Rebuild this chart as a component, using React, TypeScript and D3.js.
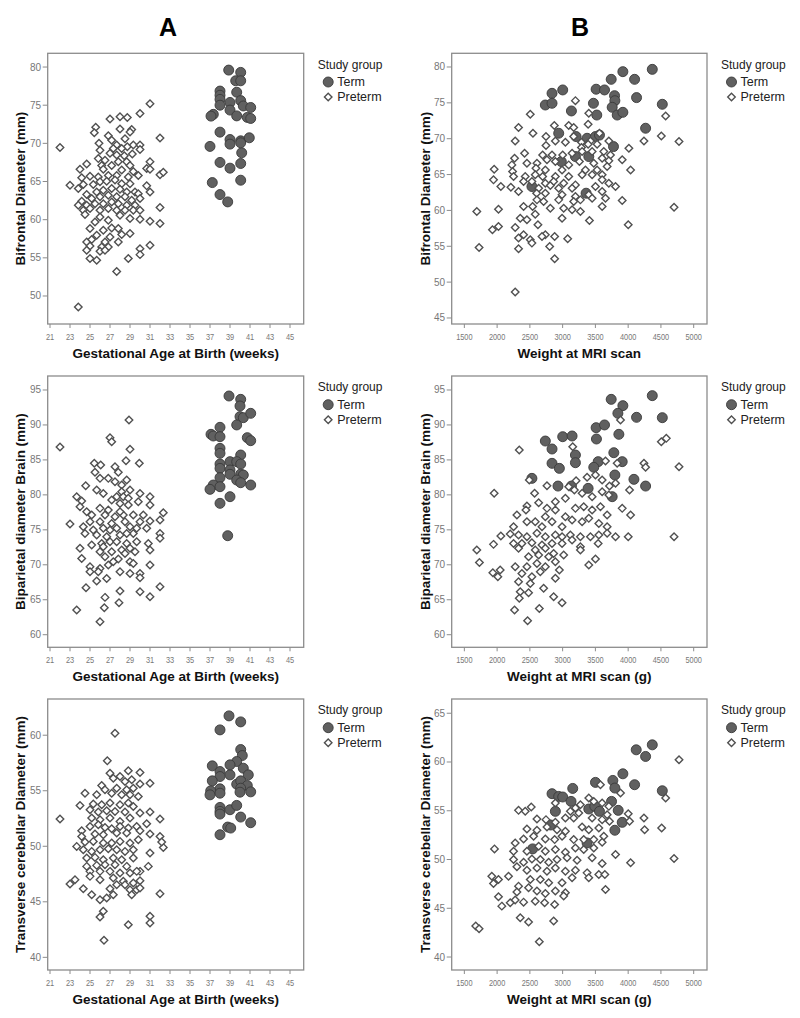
import React from "react";
import * as d3 from "d3";

const FONT = "'Liberation Sans', Arial, Helvetica, sans-serif";

// ---------- tick labels ----------
const gaTicks = [21, 23, 25, 27, 29, 31, 33, 35, 37, 39, 41, 43, 45];
const weightTicks = [1500, 2000, 2500, 3000, 3500, 4000, 4500, 5000];
const bfdTicksA = [50, 55, 60, 65, 70, 75, 80];
const bfdTicksB = [45, 50, 55, 60, 65, 70, 75, 80];
const bpdTicks = [60, 65, 70, 75, 80, 85, 90, 95];
const tcdTicksA = [40, 45, 50, 55, 60];
const tcdTicksB = [40, 45, 50, 55, 60, 65];

// ---------- A1: Bifrontal vs gestational age ----------
const termGA_BFD = [[38.87,79.6],[40.07,79.3],[39.57,78.2],[40.07,78.2],[38.0,76.85],[38.0,76.3],[38.0,75.76],[39.67,76.7],[39.0,75.36],[40.07,75.6],[38.0,75.0],[40.33,74.9],[41.07,74.7],[39.0,74.36],[39.67,73.6],[37.33,73.8],[37.1,73.57],[40.73,73.4],[41.07,73.26],[38.0,71.47],[39.0,70.5],[40.07,70.33],[39.0,69.9],[40.07,70.07],[40.93,70.73],[37.0,69.6],[40.17,68.76],[38.0,67.5],[40.07,67.36],[39.0,66.75],[37.23,64.86],[40.07,65.17],[38.0,63.29],[38.77,62.33]];
const pretermGA_BFD = [[31.0,75.2],[30.0,73.9],[27.0,73.2],[28.0,73.5],[28.73,73.4],[25.57,72.1],[25.43,71.4],[28.0,71.87],[29.17,71.8],[29.0,71.5],[32.0,70.7],[22.0,69.46],[26.83,70.99],[27.17,70.4],[25.9,70.0],[27.67,69.77],[28.5,70.6],[28.73,69.55],[29.33,69.77],[30.0,69.77],[30.0,69.2],[26.0,69.1],[27.33,69.33],[28.17,69.33],[29.23,68.6],[27.67,68.46],[28.43,68.37],[27.0,68.7],[25.83,68.0],[26.5,67.8],[27.83,67.6],[28.67,67.6],[31.0,67.6],[24.67,67.3],[26.17,67.1],[27.17,67.1],[29.0,67.1],[30.67,66.7],[31.0,66.6],[24.0,66.6],[26.33,66.6],[28.17,66.5],[29.33,66.3],[29.83,65.8],[32.0,65.9],[32.33,66.2],[25.0,65.7],[24.17,65.5],[25.83,65.6],[26.83,65.8],[27.67,65.8],[28.83,65.6],[23.0,64.5],[23.83,64.08],[24.33,64.6],[25.33,64.6],[26.0,64.96],[26.67,65.04],[27.5,65.2],[28.17,64.7],[29.0,64.7],[30.67,64.43],[31.0,63.64],[24.67,63.3],[25.67,63.64],[26.33,63.86],[27.17,64.08],[28.0,64.0],[28.67,63.64],[29.5,63.64],[29.83,63.4],[24.17,62.4],[25.17,62.77],[26.0,63.0],[26.83,63.2],[27.67,63.0],[28.5,63.0],[29.17,62.55],[30.0,62.77],[23.83,61.9],[24.67,61.9],[25.5,62.1],[26.33,62.1],[27.17,62.33],[27.83,62.1],[28.67,61.9],[29.5,61.9],[24.33,61.24],[25.0,61.46],[26.0,61.24],[26.83,61.46],[27.67,61.24],[28.5,61.24],[29.33,61.24],[30.0,61.24],[32.0,61.6],[24.5,60.67],[26.0,60.36],[28.0,60.58],[29.0,60.14],[30.0,60.06],[31.0,59.8],[25.5,59.7],[26.83,59.93],[32.0,59.49],[25.0,58.83],[26.33,58.6],[27.17,58.9],[27.83,58.83],[29.0,58.18],[25.67,57.96],[27.0,57.74],[28.17,58.05],[24.67,57.08],[25.17,57.4],[26.5,57.08],[27.83,57.08],[25.0,56.56],[26.17,56.43],[26.83,56.43],[31.0,56.65],[30.0,56.2],[24.67,55.99],[26.0,55.86],[26.5,55.99],[30.0,55.42],[25.0,54.9],[25.67,54.68],[28.83,54.9],[27.67,53.2],[23.83,48.55]];

// ---------- B1: Bifrontal vs weight ----------
const termWT_BFD = [[4368,79.67],[3919,79.35],[3741,78.28],[4098,78.28],[2838,76.33],[3001,76.8],[3511,76.9],[3639,76.8],[3792,76.0],[3797,75.3],[4128,75.73],[4521,74.8],[2736,74.7],[2838,74.94],[3134,73.87],[3470,74.94],[3521,73.3],[3756,74.38],[3833,73.3],[3919,73.68],[4266,71.46],[2940,70.76],[3205,70.3],[3373,70.06],[3501,70.3],[3562,70.5],[3776,68.9],[3195,67.51],[3399,67.51],[2980,66.81],[2531,63.33],[3358,62.4]];
const pretermWT_BFD = [[3195,75.31],[2506,73.41],[3399,73.55],[4572,73.17],[2327,71.55],[2873,71.83],[3093,71.83],[3169,71.55],[3389,72.01],[2547,70.76],[2746,70.3],[2889,69.69],[3042,69.51],[3169,70.3],[3287,69.51],[3424,69.69],[3562,70.76],[2276,69.69],[2746,69.04],[3287,68.76],[3389,69.23],[3526,69.23],[3705,69.69],[4011,68.67],[4241,69.69],[4506,70.39],[4776,69.6],[2419,67.97],[2266,67.28],[2695,67.74],[2838,67.74],[3001,67.74],[3144,67.97],[3297,68.21],[3450,68.21],[3628,68.21],[3730,67.74],[3909,67.05],[2225,66.35],[2455,66.58],[2608,66.58],[2761,67.05],[2889,66.81],[3093,66.35],[3256,66.81],[3603,67.28],[3475,66.58],[3705,66.91],[1955,65.75],[2236,65.42],[2593,65.89],[2736,65.65],[2991,65.65],[3348,65.65],[3526,65.65],[3679,66.12],[4037,65.65],[2429,64.72],[2582,64.96],[2695,64.72],[2889,64.72],[3093,64.72],[3297,64.96],[3450,64.96],[3603,64.96],[1945,64.26],[2251,64.72],[2404,64.03],[2531,64.03],[2736,63.8],[2863,64.03],[3016,63.8],[3195,63.56],[3603,64.26],[3705,63.8],[2057,63.33],[2210,63.24],[2634,63.1],[2812,63.47],[2940,63.1],[3144,63.1],[3501,63.33],[3807,63.33],[2327,62.64],[2603,62.4],[2736,62.4],[2991,62.17],[3195,61.94],[3399,62.17],[3603,62.64],[2608,61.47],[2710,61.24],[2940,61.47],[3169,61.24],[3271,61.47],[3450,61.71],[3654,61.71],[3909,61.38],[2404,60.55],[2542,60.55],[2812,60.31],[3016,60.31],[3144,60.08],[3603,60.55],[2021,60.17],[1690,59.85],[3271,59.85],[4700,60.45],[2353,58.92],[2455,58.69],[2582,59.48],[2991,58.92],[3409,58.6],[4001,57.99],[1929,57.3],[2021,57.76],[2276,57.62],[2404,56.6],[2623,57.99],[2736,56.6],[2506,55.9],[2685,56.37],[2878,56.37],[3077,56.04],[2327,56.14],[2531,55.44],[2802,54.98],[1725,54.84],[2327,54.65],[2878,53.26],[2276,48.62]];

// ---------- A2: Biparietal vs gestational age ----------
const termGA_BPD = [[38.9,94.14],[40.07,93.66],[40.0,92.71],[40.0,91.19],[40.33,91.04],[41.07,91.66],[39.67,90.0],[38.0,89.66],[37.1,88.66],[37.33,88.42],[38.0,88.32],[40.73,88.18],[41.07,87.75],[38.0,86.65],[38.0,85.94],[40.07,85.7],[39.0,84.75],[39.67,84.75],[40.07,84.41],[38.0,84.41],[38.0,83.79],[39.0,83.56],[39.0,82.94],[40.07,82.98],[40.33,82.84],[39.67,82.12],[38.0,82.46],[40.07,81.74],[37.33,81.41],[41.07,81.41],[37.0,80.79],[38.0,81.17],[39.0,79.74],[38.0,78.79],[38.77,74.16]];
const pretermGA_BPD = [[28.9,90.7],[27.0,88.18],[27.17,87.6],[22.0,86.84],[29.0,86.51],[28.6,84.89],[29.93,84.51],[25.43,84.51],[26.07,84.27],[27.5,84.03],[27.83,83.22],[25.5,83.22],[26.0,82.36],[26.83,82.36],[27.5,81.88],[28.17,81.41],[28.67,82.12],[24.57,81.31],[25.67,80.69],[26.33,80.21],[28.17,80.45],[29.0,80.69],[30.0,80.21],[23.67,79.74],[24.17,79.12],[27.67,79.74],[28.33,79.74],[28.83,79.5],[31.0,79.74],[24.0,78.31],[24.67,77.59],[25.17,77.11],[26.83,77.83],[28.0,78.78],[28.83,78.54],[29.83,79.02],[31.0,78.54],[32.33,77.45],[32.0,76.4],[31.0,76.26],[23.0,75.83],[26.0,76.16],[27.17,75.92],[28.33,77.11],[29.33,77.11],[30.0,76.16],[30.67,75.21],[24.33,75.44],[25.33,74.97],[26.33,75.21],[27.67,75.21],[29.0,75.44],[24.5,74.49],[25.67,74.25],[26.67,74.01],[28.0,74.25],[29.33,74.49],[32.0,74.49],[32.0,73.78],[25.17,72.82],[26.17,73.06],[27.0,73.3],[28.67,73.06],[29.67,73.3],[30.83,73.06],[31.0,72.11],[24.0,72.35],[26.0,71.87],[27.17,71.87],[28.17,72.11],[29.5,71.87],[24.17,70.91],[26.5,71.15],[27.83,70.82],[29.0,70.44],[29.33,70.2],[31.0,69.96],[25.0,69.72],[26.0,69.48],[26.83,69.96],[28.0,69.01],[25.0,69.01],[25.83,69.01],[29.0,68.77],[30.0,68.77],[30.0,68.15],[25.67,67.67],[26.67,68.05],[24.6,66.72],[32.0,66.86],[30.0,66.15],[28.0,66.24],[31.0,65.43],[26.5,65.34],[27.9,64.57],[23.67,63.52],[26.43,63.86],[26.0,61.85],[27.17,79.26],[26.5,77.11],[27.5,76.88],[28.5,76.16],[26.0,78.07],[27.67,73.3],[28.67,74.49],[27.0,74.97],[29.0,72.35],[27.33,70.44],[29.67,75.21],[25.0,76.16],[30.33,77.11],[28.5,71.63],[26.33,72.58],[28.0,77.59]];

// ---------- B2: Biparietal vs weight ----------
const termWT_BPD = [[4368,94.19],[3741,93.66],[3919,92.76],[3843,91.66],[4128,91.09],[4521,91.04],[3511,89.61],[3639,90.0],[3001,88.32],[3144,88.42],[3516,87.99],[3858,88.66],[2736,87.7],[2838,86.56],[3195,85.7],[3781,86.03],[2838,84.51],[2950,83.79],[3195,84.6],[3542,84.75],[3909,84.75],[3475,83.94],[3797,82.84],[4088,82.22],[4266,81.26],[2531,82.36],[2929,81.26],[3134,81.26],[3389,80.93],[3756,79.74]];
const pretermWT_BPD = [[3883,90.71],[2338,86.42],[3154,86.89],[4506,87.61],[4582,88.08],[4776,84.03],[4241,84.51],[4266,83.94],[3654,84.84],[3832,84.51],[2491,82.12],[2572,80.22],[1955,80.22],[2761,81.31],[3093,81.17],[3205,82.03],[3373,82.51],[3501,82.84],[3603,82.12],[3715,81.27],[3807,81.65],[4021,80.69],[2634,78.88],[2455,78.4],[2761,78.07],[2889,79.02],[3042,79.5],[3179,80.69],[3297,80.22],[3450,79.74],[3603,80.45],[3705,79.98],[2302,77.12],[2440,77.83],[2582,76.16],[2736,76.88],[2889,77.83],[3042,76.88],[3195,78.07],[3322,78.31],[3450,77.83],[3577,78.31],[3679,77.12],[3909,78.07],[4037,77.12],[2251,75.45],[2455,76.16],[2685,75.45],[2838,76.16],[2991,75.45],[3144,76.4],[3297,76.16],[3399,76.64],[3552,75.92],[3679,75.45],[3807,74.02],[4001,74.02],[4700,74.02],[2057,74.11],[2200,74.4],[2327,74.26],[2455,74.02],[2608,74.5],[2736,74.02],[2889,74.26],[2991,74.02],[3118,74.26],[3271,74.02],[3424,74.02],[3552,74.26],[3679,74.5],[2251,73.06],[2378,73.06],[2531,73.16],[2685,72.82],[2838,73.06],[2991,73.06],[3144,73.54],[3271,72.59],[3542,73.06],[1945,72.92],[1690,72.11],[2327,72.35],[2582,72.11],[2736,72.35],[2863,71.63],[3016,71.39],[3271,72.11],[2480,71.16],[2634,71.39],[2787,71.16],[2889,70.44],[2276,69.72],[2455,69.72],[2608,70.2],[2736,69.72],[2950,69.25],[3399,69.96],[3501,70.82],[1730,70.34],[1935,68.87],[2011,68.29],[2047,69.25],[2378,68.77],[2531,68.29],[2659,69.01],[2889,68.06],[2327,67.58],[2506,67.34],[2710,66.63],[2353,66.15],[2480,66.01],[2863,65.43],[2991,64.58],[2338,65.2],[2266,63.53],[2644,63.76],[2465,62.0]];

// ---------- A3: Transverse cerebellar vs gestational age ----------
const termGA_TCD = [[38.9,61.74],[40.07,61.2],[38.0,60.48],[40.07,58.71],[40.23,58.17],[39.67,57.63],[39.0,57.33],[37.23,57.24],[40.33,57.03],[38.0,56.73],[39.0,56.43],[40.83,56.43],[38.0,56.28],[37.23,55.89],[39.67,55.59],[40.07,55.89],[40.73,55.47],[38.0,55.17],[40.07,55.23],[37.07,54.99],[38.0,54.78],[37.0,54.63],[41.07,54.9],[40.0,54.87],[38.0,53.5],[38.0,53.14],[38.0,52.9],[39.0,53.29],[39.67,53.68],[40.07,52.63],[41.07,52.12],[38.77,51.73],[39.07,51.64],[38.0,51.04]];
const pretermGA_TCD = [[27.5,60.18],[26.73,57.69],[27.0,56.58],[28.83,56.79],[30.0,56.64],[27.33,56.13],[28.0,56.28],[28.5,55.83],[29.17,55.98],[31.0,55.68],[30.0,55.6],[26.17,55.47],[26.5,55.08],[27.67,55.23],[28.67,55.08],[29.33,55.23],[24.5,54.78],[25.67,54.63],[27.17,54.78],[28.17,54.63],[29.0,54.63],[29.83,54.49],[24.0,53.68],[25.33,53.8],[26.17,53.74],[27.0,53.89],[28.0,53.74],[28.83,53.89],[29.33,53.59],[25.0,53.29],[25.83,53.08],[26.67,53.2],[27.5,53.14],[28.5,53.08],[30.0,52.99],[31.0,53.08],[22.0,52.45],[25.17,52.54],[26.0,52.39],[27.0,52.54],[28.0,52.24],[29.0,52.54],[32.0,52.45],[30.67,52.03],[24.17,51.4],[25.0,51.79],[25.83,51.94],[26.5,51.7],[27.17,51.58],[28.0,51.79],[28.83,51.64],[29.67,51.79],[24.17,50.89],[25.5,51.1],[26.33,51.04],[27.67,51.19],[28.67,51.19],[30.0,51.4],[31.0,51.1],[32.0,50.89],[23.67,49.99],[24.5,50.38],[25.33,50.44],[26.33,50.29],[27.17,50.29],[28.0,50.44],[29.0,50.29],[29.83,50.59],[32.33,49.9],[32.17,50.38],[24.33,49.69],[25.17,49.54],[26.0,49.69],[26.83,49.78],[27.67,49.69],[28.5,49.54],[29.33,49.69],[31.0,49.39],[24.67,48.94],[25.5,49.0],[26.33,48.79],[27.33,48.94],[28.17,48.79],[29.33,48.94],[24.67,48.19],[25.67,48.28],[26.5,48.34],[27.5,48.34],[28.67,48.19],[30.0,47.74],[30.83,48.19],[25.0,47.74],[26.0,47.74],[27.0,47.74],[28.0,47.59],[29.0,47.59],[29.67,47.74],[23.5,46.99],[23.0,46.6],[25.0,47.29],[26.0,46.99],[27.33,47.14],[28.33,46.84],[29.33,46.69],[30.0,46.9],[24.33,46.18],[25.17,45.64],[27.0,46.18],[27.67,46.54],[28.5,46.54],[29.0,46.09],[29.67,46.09],[30.0,46.24],[32.0,45.73],[26.0,45.19],[26.67,45.34],[27.33,45.64],[29.17,45.64],[26.33,44.14],[26.0,43.63],[28.83,42.94],[31.0,43.69],[31.0,43.09],[26.4,41.54]];

// ---------- B3: Transverse cerebellar vs weight ----------
const termWT_TCD = [[4368,61.76],[4123,61.25],[4266,60.57],[3919,58.79],[4098,57.67],[4521,57.05],[3501,57.91],[3766,58.11],[3797,57.33],[3154,57.29],[2838,56.75],[2940,56.47],[3001,56.41],[3128,55.96],[3399,55.18],[3491,55.45],[3562,54.94],[3746,55.96],[3848,55.04],[3797,53.0],[3909,53.81],[2817,53.54],[2889,54.94],[3373,51.7],[2542,51.09]];
const pretermWT_TCD = [[4776,60.22],[4572,56.3],[3883,56.82],[3577,57.67],[3399,56.3],[3271,55.62],[3475,55.96],[3603,55.79],[3705,55.45],[3195,55.28],[3118,54.94],[2889,55.79],[2327,55.04],[2429,54.94],[2521,55.38],[2608,54.16],[2746,54.09],[2889,53.81],[3042,54.26],[3169,54.26],[3246,54.77],[3450,54.26],[3603,54.09],[3679,54.6],[3715,53.92],[4001,54.7],[4021,53.92],[4241,54.26],[4251,53.06],[4511,53.23],[2455,53.13],[2608,53.0],[2761,53.34],[2914,53.06],[3042,52.89],[3297,53.34],[3399,53.06],[3552,53.23],[3628,52.38],[2404,52.11],[2557,52.38],[2736,52.11],[2878,52.04],[2991,52.38],[3169,52.04],[3322,52.04],[3475,52.04],[3603,51.77],[1960,51.09],[2276,51.7],[2251,50.85],[2455,50.85],[2634,51.36],[2736,50.85],[2889,51.02],[3042,50.75],[3195,51.19],[3322,51.02],[3475,51.19],[3807,50.51],[4037,49.66],[4700,50.1],[2251,50.0],[2404,49.72],[2531,50.06],[2659,50.0],[2787,49.72],[2914,50.0],[3067,50.17],[3220,49.93],[3450,50.17],[3603,49.59],[2302,49.25],[2455,48.9],[2608,49.14],[2761,48.8],[2889,49.14],[3042,48.8],[3195,48.9],[3373,48.63],[3552,48.46],[3644,48.46],[1919,48.29],[2021,47.95],[1945,47.54],[2174,48.29],[2506,47.95],[2659,47.95],[2787,47.61],[2991,47.61],[3144,48.12],[3399,48.12],[2327,47.27],[2480,47.1],[2608,46.76],[2736,46.52],[2889,46.76],[3042,46.59],[3654,46.93],[2302,46.66],[2021,46.18],[2200,45.56],[2276,45.84],[2404,45.63],[2582,45.73],[2725,45.56],[2878,45.39],[3016,46.25],[2072,45.22],[2353,44.03],[2480,43.59],[2863,43.69],[1674,43.18],[1725,42.9],[2644,41.57]];

// ---------- layout ----------
const colLeft = [47.7, 451.7];
const colRight = [303.7, 707];
const rowTop = [53.3, 376, 699];
const rowBottom = [324, 647.3, 970];

type Pt = number[];
interface Panel {
  col: number; row: number;
  xDomain: number[]; yDomain: number[];
  xTicks: number[]; yTicks: number[];
  xTitle: string; yTitle: string;
  term: Pt[]; preterm: Pt[];
}

const panels: Panel[] = [
  { col: 0, row: 0, xDomain: [20.77, 46.37], yDomain: [46.33, 81.8], xTicks: gaTicks, yTicks: bfdTicksA,
    xTitle: "Gestational Age at Birth (weeks)", yTitle: "Bifrontal Diameter (mm)", term: termGA_BFD, preterm: pretermGA_BFD },
  { col: 1, row: 0, xDomain: [1307, 5203], yDomain: [44.16, 81.91], xTicks: weightTicks, yTicks: bfdTicksB,
    xTitle: "Weight at MRI scan", yTitle: "Bifrontal Diameter (mm)", term: termWT_BFD, preterm: pretermWT_BFD },
  { col: 0, row: 1, xDomain: [20.77, 46.37], yDomain: [58.2, 97.0], xTicks: gaTicks, yTicks: bpdTicks,
    xTitle: "Gestational Age at Birth (weeks)", yTitle: "Biparietal diameter Brain (mm)", term: termGA_BPD, preterm: pretermGA_BPD },
  { col: 1, row: 1, xDomain: [1307, 5203], yDomain: [58.2, 97.0], xTicks: weightTicks, yTicks: bpdTicks,
    xTitle: "Weight at MRI scan (g)", yTitle: "Biparietal diameter Brain (mm)", term: termWT_BPD, preterm: pretermWT_BPD },
  { col: 0, row: 2, xDomain: [20.77, 46.37], yDomain: [38.86, 63.26], xTicks: gaTicks, yTicks: tcdTicksA,
    xTitle: "Gestational Age at Birth (weeks)", yTitle: "Transverse cerebellar Diameter (mm)", term: termGA_TCD, preterm: pretermGA_TCD },
  { col: 1, row: 2, xDomain: [1307, 5203], yDomain: [38.67, 66.46], xTicks: weightTicks, yTicks: tcdTicksB,
    xTitle: "Weight at MRI scan (g)", yTitle: "Transverse cerebellar Diameter (mm)", term: termWT_TCD, preterm: pretermWT_TCD },
];

const diamondPath = d3.symbol().type(d3.symbolDiamond2).size(36)() as string;

function PanelView({ p }: { p: Panel }) {
  const x0 = colLeft[p.col], x1 = colRight[p.col];
  const y0 = rowTop[p.row], y1 = rowBottom[p.row];
  const xs = d3.scaleLinear().domain(p.xDomain).range([x0, x1]);
  const ys = d3.scaleLinear().domain(p.yDomain).range([y1, y0]);
  const cx = (x0 + x1) / 2, cy = (y0 + y1) / 2;
  const ytx = p.col === 0 ? 20.5 : 425;
  const lx = x1 + 14;
  return (
    <g>
      <rect x={x0} y={y0} width={x1 - x0} height={y1 - y0} fill="#fff" stroke="#8c8c8c" strokeWidth={1.3} />
      {p.yTicks.map((t) => (
        <g key={"y" + t}>
          <line x1={x0 - 5} x2={x0} y1={ys(t)} y2={ys(t)} stroke="#8c8c8c" strokeWidth={1} />
          <text x={x0 - 6.5} y={ys(t)} dy="0.35em" textAnchor="end" fontSize={10} fill="#777" fontFamily={FONT}>{t}</text>
        </g>
      ))}
      {p.xTicks.map((t) => (
        <g key={"x" + t}>
          <line x1={xs(t)} x2={xs(t)} y1={y1} y2={y1 + 4} stroke="#8c8c8c" strokeWidth={1} />
          <text transform={`translate(${xs(t)},${y1 + 13}) scale(0.82,1)`} dy="0.35em" textAnchor="middle" fontSize={9} fill="#777" fontFamily={FONT}>{t}</text>
        </g>
      ))}
      {p.term.map((d, i) => (
        <circle key={"t" + i} cx={xs(d[0])} cy={ys(d[1])} r={5} fill="#606060" stroke="#3a3a3a" strokeWidth={0.9} />
      ))}
      {p.preterm.map((d, i) => (
        <path key={"p" + i} d={diamondPath} transform={`translate(${xs(d[0])},${ys(d[1])})`} fill="#fff" stroke="#505050" strokeWidth={1.4} />
      ))}
      <text x={cx} y={y1 + 29} dy="0.35em" textAnchor="middle" fontSize={13.5} fontWeight="bold" fill="#111" fontFamily={FONT}>{p.xTitle}</text>
      <text transform={`translate(${ytx},${cy}) rotate(-90)`} dy="0.35em" textAnchor="middle" fontSize={13.5} fontWeight="bold" fill="#111" fontFamily={FONT}>{p.yTitle}</text>
      <text x={lx} y={y0 + 11} dy="0.35em" fontSize={12} fill="#222" fontFamily={FONT}>Study group</text>
      <circle cx={lx + 10.5} cy={y0 + 28.7} r={5} fill="#606060" stroke="#3a3a3a" strokeWidth={0.9} />
      <text x={lx + 19.5} y={y0 + 28.7} dy="0.35em" fontSize={12.5} fill="#222" fontFamily={FONT}>Term</text>
      <path d={diamondPath} transform={`translate(${lx + 10.5},${y0 + 43.8})`} fill="#fff" stroke="#505050" strokeWidth={1.4} />
      <text x={lx + 19.5} y={y0 + 43.8} dy="0.35em" fontSize={12.5} fill="#222" fontFamily={FONT}>Preterm</text>
    </g>
  );
}

export default function App() {
  return (
    <svg width={800} height={1018} style={{ position: "absolute", left: 0, top: 0, background: "#fff" }}>
      <rect x={0} y={0} width={800} height={1018} fill="#fff" />
      <text x={168} y={27} dy="0.35em" textAnchor="middle" fontSize={25} fontWeight="bold" fill="#000" fontFamily={FONT}>A</text>
      <text x={580} y={27} dy="0.35em" textAnchor="middle" fontSize={25} fontWeight="bold" fill="#000" fontFamily={FONT}>B</text>
      {panels.map((p, i) => <PanelView key={i} p={p} />)}
    </svg>
  );
}
